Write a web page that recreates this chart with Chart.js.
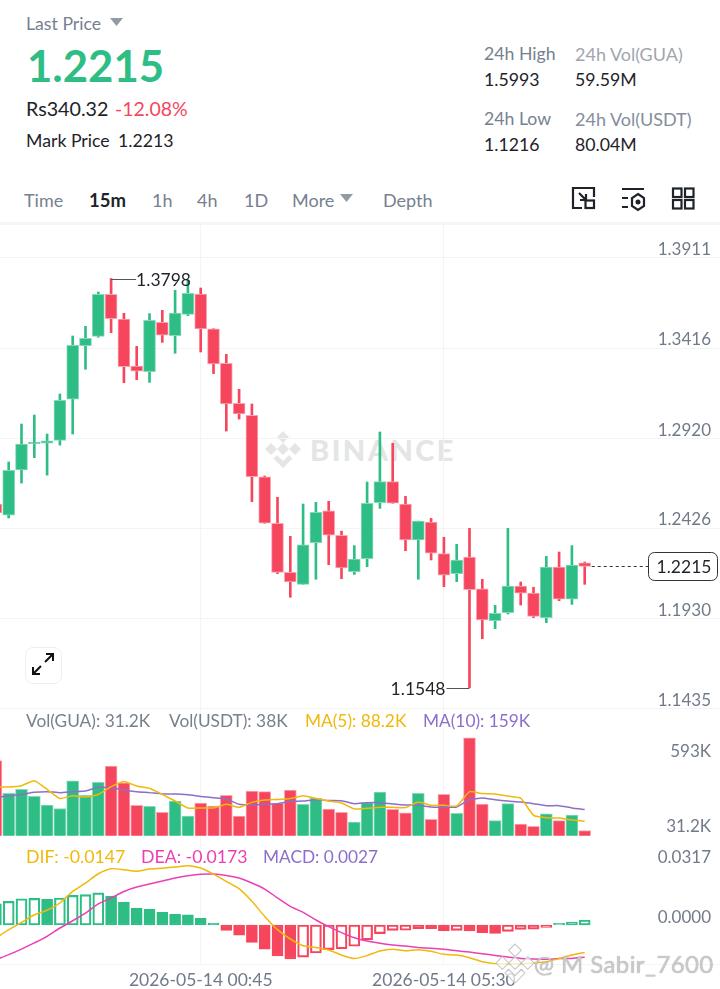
<!DOCTYPE html>
<html>
<head>
<meta charset="utf-8">
<style>
html,body{margin:0;padding:0;background:#fff;}
body{width:720px;height:989px;position:relative;overflow:hidden;font-family:Lato,sans-serif;}
.t{position:absolute;white-space:nowrap;transform:translateY(-50%);line-height:1;}
canvas{position:absolute;left:0;}
.g{color:#76808F;}
.k{color:#1E2329;}
.s{font-size:17.7px;}
.l{font-size:17.3px;}
.wm{position:absolute;left:264px;top:430px;display:flex;align-items:center;color:#E4E5E6;font-weight:900;font-size:29px;letter-spacing:2.4px;}
</style>
</head>
<body>
<div class="t g s" style="left:26px;top:24px;">Last Price</div>
<svg style="position:absolute;left:110px;top:18px" width="14" height="9"><path d="M0 0H13L6.5 8Z" fill="#929AA5"/></svg>
<div class="t" style="left:27px;top:66px;font-size:43.7px;font-weight:700;color:#2EBD85;">1.2215</div>
<div class="t k" style="left:26px;top:109px;font-size:19.7px;">Rs340.32</div>
<div class="t" style="left:115px;top:109px;font-size:19.5px;color:#F6465D;">-12.08%</div>
<div class="t k s" style="left:26px;top:141px;">Mark Price</div>
<div class="t k s" style="left:118px;top:141px;">1.2213</div>
<div class="t g s" style="left:484px;top:54px;">24h High</div>
<div class="t k s" style="left:484px;top:80px;">1.5993</div>
<div class="t g s" style="left:484px;top:119px;">24h Low</div>
<div class="t k s" style="left:484px;top:145px;">1.1216</div>
<div class="t" style="left:575px;top:54px;font-size:18px;color:#A0A6AF;">24h Vol(GUA)</div>
<div class="t k s" style="left:575px;top:80px;">59.59M</div>
<div class="t" style="left:575px;top:119px;font-size:18px;color:#848E9C;">24h Vol(USDT)</div>
<div class="t k s" style="left:575px;top:145px;">80.04M</div>

<div class="t g" style="left:24px;top:200px;font-size:18px;">Time</div>
<div class="t k" style="left:89px;top:200px;font-size:18.5px;font-weight:700;">15m</div>
<div class="t g" style="left:152px;top:200px;font-size:18px;">1h</div>
<div class="t g" style="left:197px;top:200px;font-size:18px;">4h</div>
<div class="t g" style="left:244px;top:200px;font-size:18px;">1D</div>
<div class="t g" style="left:292px;top:200px;font-size:18px;">More</div>
<svg style="position:absolute;left:340px;top:194px" width="14" height="9"><path d="M0 0H13L6.5 8Z" fill="#929AA5"/></svg>
<div class="t g" style="left:383px;top:200px;font-size:18px;">Depth</div>
<svg style="position:absolute;left:570px;top:185px" width="128" height="28" fill="none" stroke="#1E2329" stroke-width="2.2">
  <path d="M12 23H3V3H24V12"/><path d="M9 8L16 15M16 9V15H10"/><rect x="15.500" y="15.500" width="8.500" height="7.500"/>
  <path d="M52 4H74M52 13H58M52 22H58"/><path d="M68 9L74 13V21L68 25L62 21V13Z"/><circle cx="68" cy="17" r="1.400" fill="#1E2329"/>
  <rect x="103" y="3.500" width="8.500" height="8.500"/><rect x="115" y="3.500" width="8.500" height="8.500"/><rect x="103" y="15" width="8.500" height="8.500"/><rect x="115" y="15" width="8.500" height="8.500"/>
</svg>
<div style="position:absolute;left:0;top:222px;width:720px;height:3px;background:#F5F5F5;"></div>

<div class="wm"><svg width="38" height="38" viewBox="0 0 38 38" style="margin-right:8px" fill="#E4E5E6"><path d="M19 1l6 6-6 6-6-6zM7 13l6 6-6 6-6-6zM31 13l6 6-6 6-6-6zM19 13l6 6-6 6-6-6zM13 25l6 6 6-6 3.500 3.500L19 38l-9.500-9.500z"/></svg>BINANCE</div>

<canvas id="priceChart" width="720" height="486" style="top:224px"></canvas>
<canvas id="volChart" width="720" height="129" style="top:708px"></canvas>
<canvas id="macdChart" width="720" height="152" style="top:837px"></canvas>

<div class="t g l" style="left:26px;top:721px;">Vol(GUA): 31.2K</div>
<div class="t g l" style="left:169px;top:721px;">Vol(USDT): 38K</div>
<div class="t l" style="left:305px;top:721px;color:#F0B90B;">MA(5): 88.2K</div>
<div class="t l" style="left:423px;top:721px;color:#8D6FCB;">MA(10): 159K</div>
<div class="t s" style="left:26px;top:857px;color:#F0B90B;">DIF: -0.0147</div>
<div class="t s" style="left:141px;top:857px;color:#EB40B5;">DEA: -0.0173</div>
<div class="t l" style="left:263px;top:857px;color:#8D6FCB;">MACD: 0.0027</div>

<div style="position:absolute;left:25px;top:647px;width:35px;height:35px;border:1.500px solid #EEEEEE;border-radius:8px;background:#fff;"></div>
<svg style="position:absolute;left:31px;top:652px" width="24" height="24" fill="none" stroke="#111" stroke-width="2"><path d="M2 22L10 14M2 15V22H9M22 2L14 10M15 2H22V9"/></svg>

<svg style="position:absolute;left:495px;top:943px" width="40" height="40" viewBox="0 0 38 38" fill="rgba(255,255,255,.7)" stroke="#C4C4C4" stroke-width="1"><path d="M19 1l6 6-6 6-6-6zM7 13l6 6-6 6-6-6zM31 13l6 6-6 6-6-6zM19 13l6 6-6 6-6-6zM13 25l6 6 6-6 3.500 3.500L19 38l-9.500-9.500z"/></svg>
<div class="t" style="left:534px;top:964px;font-size:24px;color:rgba(205,205,205,.9);text-shadow:0 0 1px #999;letter-spacing:.4px;">@ M Sabir_7600</div>

<script src="https://cdn.jsdelivr.net/npm/chart.js@4"></script>
<script>
const openPrices = [1.2558,1.2497,1.2745,1.2890,1.2892,1.2908,1.3134,1.3429,1.3480,1.3711,1.3575,1.3317,1.3286,1.3557,1.3484,1.3601,1.3713,1.3522,1.3332,1.3112,1.3046,1.2708,1.2452,1.2182,1.2116,1.2345,1.2521,1.2386,1.2186,1.2257,1.2565,1.2681,1.2558,1.2360,1.2459,1.2285,1.2175,1.2266,1.2091,1.1916,1.1960,1.2107,1.2068,1.1933,1.2211,1.2034,1.2235];
const highPrices = [1.2563,1.2789,1.2998,1.3047,1.2943,1.3163,1.3482,1.3535,1.3724,1.3798,1.3607,1.3425,1.3605,1.3623,1.3733,1.3790,1.3746,1.3522,1.3381,1.3189,1.3108,1.2712,1.2595,1.2380,1.2558,1.2567,1.2573,1.2409,1.2329,1.2679,1.2954,1.2892,1.2600,1.2464,1.2479,1.2375,1.2336,1.2424,1.2144,1.2001,1.2424,1.2129,1.2100,1.2270,1.2294,1.2329,1.2239];
const lowPrices = [1.2503,1.2481,1.2673,1.2813,1.2717,1.2882,1.2943,1.3299,1.3475,1.3500,1.3225,1.3242,1.3227,1.3447,1.3387,1.3594,1.3394,1.3275,1.2959,1.3025,1.2571,1.2452,1.2175,1.2045,1.2116,1.2144,1.2224,1.2147,1.2171,1.2213,1.2534,1.2562,1.2301,1.2144,1.2250,1.2103,1.2131,1.1548,1.1817,1.1872,1.1953,1.2002,1.1933,1.1905,1.2026,1.2006,1.2116];
const closePrices = [1.2509,1.2743,1.2888,1.2899,1.2906,1.3128,1.3431,1.3469,1.3711,1.3577,1.3313,1.3289,1.3568,1.3487,1.3608,1.3717,1.3521,1.3328,1.3108,1.3053,1.2708,1.2452,1.2182,1.2129,1.2334,1.2512,1.2386,1.2206,1.2255,1.2562,1.2681,1.2562,1.2360,1.2464,1.2287,1.2167,1.2250,1.2087,1.1920,1.1957,1.2107,1.2067,1.1940,1.2211,1.2034,1.2222,1.2215];

// volume, in thousands
const volumes = [455,256,281,238,186,165,333,244,323,422,321,184,178,141,210,119,198,180,244,119,271,267,196,277,190,228,162,141,83,200,265,159,138,256,99,250,135,593,192,91,194,71,56,132,91,125,31.2];
const ma5 = [295,295,303,333,281,226,242,234,250,297,329,301,287,250,210,168,168,168,190,172,202,216,220,226,242,226,210,198,162,166,172,172,170,204,184,184,180,267,255,253,240,228,123,109,107,95,88.2];
const ma10 = [230,242,250,263,267,261,267,271,293,291,277,267,261,253,253,248,238,230,222,190,186,192,194,208,210,218,214,212,194,200,200,192,186,184,174,172,174,218,228,218,210,204,194,182,182,168,159];

const macdHist = [.0113,.0127,.0141,.0143,.0138,.0145,.0159,.0163,.0172,.0155,.0123,.0091,.0084,.0068,.0057,.0055,.0036,.0009,-.0029,-.0055,-.0093,-.0129,-.0166,-.0182,-.0172,-.0150,-.0132,-.0127,-.0114,-.0080,-.0046,-.0029,-.0028,-.0020,-.0020,-.0030,-.0029,-.0032,-.0041,-.0045,-.0034,-.0023,-.0022,-.0013,.0009,.0016,.0027];
const dif = [-.0070,-.0025,.0014,.0055,.0079,.0118,.0180,.0225,.0275,.0302,.0297,.0288,.0300,.0304,.0311,.0318,.0306,.0273,.0234,.0195,.0127,.0046,-.0025,-.0075,-.0111,-.0120,-.0134,-.0161,-.0180,-.0164,-.0139,-.0130,-.0138,-.0132,-.0141,-.0157,-.0161,-.0175,-.0197,-.0207,-.0209,-.0209,-.0204,-.0197,-.0180,-.0161,-.0147];
const dea = [-.0186,-.0159,-.0129,-.0096,-.0061,-.0016,.0023,.0064,.0113,.0145,.0180,.0204,.0220,.0236,.0252,.0264,.0272,.0273,.0266,.0252,.0225,.0193,.0145,.0100,.0068,.0027,-.0009,-.0041,-.0068,-.0086,-.0098,-.0107,-.0113,-.0120,-.0125,-.0130,-.0138,-.0145,-.0154,-.0163,-.0172,-.0179,-.0182,-.0184,-.0180,-.0179,-.0173];

const priceTicks = [1.3911,1.3416,1.2920,1.2426,1.1930,1.1435];
const lastPrice = 1.2215;
const timeTickIndex = [16,35];
const timeLabels = ['2026-05-14 00:45','2026-05-14 05:30'];

const GREEN = '#2EBD85', RED = '#F6465D';
const GREEN_EDGE = '#86DAB9', RED_EDGE = '#FBA6B1';
const GRID = '#F3F4F5', FONT = 'Lato', TICK = '#707A8A';

const idx = openPrices.map((_, i) => i);
const isUp = i => closePrices[i] >= openPrices[i];

function noPadding(s) {
    s.paddingLeft = s.paddingRight = s.paddingTop = s.paddingBottom = 0;
}

function xScale(extra) {
    return Object.assign({
        type: 'linear',
        offset: false,
        min: 0.32,
        max: 56.57,
        afterBuildTicks: s => { s.ticks = timeTickIndex.map(v => ({value: v})); },
        afterFit: s => { s.height = 0; noPadding(s); },
        grid: {color: GRID, drawTicks: false, offset: false},
        border: {display: true, color: GRID},
        ticks: {display: false, autoSkip: false, maxRotation: 0}
    }, extra || {});
}

function yAxis(min, max, values, labelOffset, fmt, showGrid) {
    return {
        position: 'right',
        min: min,
        max: max,
        afterBuildTicks: s => { s.ticks = values.map(v => ({value: v})); },
        afterFit: s => { s.width = 0; noPadding(s); },
        grid: {display: showGrid, color: GRID, drawTicks: false},
        border: {display: false},
        ticks: {
            mirror: true,
            padding: -9,
            labelOffset: labelOffset,
            color: TICK,
            font: {family: FONT, size: 17},
            callback: fmt
        }
    };
}

const baseOptions = {
    responsive: false,
    animation: false,
    devicePixelRatio: 1,
    layout: {padding: 0},
    datasets: {bar: {grouped: false}},
    plugins: {legend: {display: false}, tooltip: {enabled: false}},
    elements: {point: {radius: 0}}
};

// high / low leaders and the last price tag
const priceMarks = {
    id: 'priceMarks',
    afterDatasetsDraw(chart) {
        const {ctx, scales: {x, y}} = chart;
        const hi = highPrices.indexOf(Math.max(...highPrices));
        const lo = lowPrices.indexOf(Math.min(...lowPrices));
        ctx.save();
        ctx.font = '17.5px ' + FONT;
        ctx.textBaseline = 'middle';
        ctx.lineWidth = 1;
        ctx.strokeStyle = '#555';
        ctx.fillStyle = '#1E2329';

        let px = x.getPixelForValue(hi), py = Math.round(y.getPixelForValue(highPrices[hi])) + .5;
        ctx.beginPath(); ctx.moveTo(px, py); ctx.lineTo(px + 25, py); ctx.stroke();
        ctx.textAlign = 'left';
        ctx.fillText(highPrices[hi].toFixed(4), px + 25, py + 1);

        px = x.getPixelForValue(lo); py = Math.round(y.getPixelForValue(lowPrices[lo])) + .5;
        ctx.beginPath(); ctx.moveTo(px, py); ctx.lineTo(px - 23, py); ctx.stroke();
        ctx.textAlign = 'right';
        ctx.fillText(lowPrices[lo].toFixed(4), px - 24, py + 1);

        py = Math.round(y.getPixelForValue(lastPrice)) + .5;
        ctx.setLineDash([3, 3]);
        ctx.strokeStyle = '#333';
        ctx.beginPath(); ctx.moveTo(x.getPixelForValue(idx.length - 1) + 7, py); ctx.lineTo(649, py); ctx.stroke();
        ctx.setLineDash([]);
        ctx.fillStyle = '#fff';
        ctx.beginPath(); ctx.roundRect(648.5, py - 14, 69, 28, 6); ctx.fill(); ctx.stroke();
        ctx.fillStyle = '#1E2329';
        ctx.textAlign = 'center';
        ctx.fillText(lastPrice.toFixed(4), 684, py + 1);
        ctx.restore();
    }
};

new Chart(document.getElementById('priceChart'), {
    type: 'bar',
    data: {
        datasets: [
            {
                data: idx.map(i => ({x: i, y: [openPrices[i], closePrices[i]]})),
                backgroundColor: idx.map(i => isUp(i) ? GREEN : RED),
                borderColor: idx.map(i => isUp(i) ? GREEN_EDGE : RED_EDGE),
                borderWidth: 1,
                borderSkipped: false,
                barThickness: 12
            },
            {
                data: idx.map(i => ({x: i, y: [lowPrices[i], highPrices[i]]})),
                backgroundColor: idx.map(i => isUp(i) ? GREEN : RED),
                barThickness: 2
            }
        ]
    },
    options: Object.assign({}, baseOptions, {
        scales: {
            x: xScale(),
            y: yAxis(1.1425, 1.4098, priceTicks, -8, v => v.toFixed(4), true)
        }
    }),
    plugins: [priceMarks]
});

new Chart(document.getElementById('volChart'), {
    type: 'bar',
    data: {
        datasets: [
            {type: 'line', data: idx.map(i => ({x: i, y: ma5[i]})), borderColor: '#F0B90B', borderWidth: 1.5, tension: .15},
            {type: 'line', data: idx.map(i => ({x: i, y: ma10[i]})), borderColor: '#8D6FCB', borderWidth: 1.5, tension: .15},
            {
                data: idx.map(i => ({x: i, y: volumes[i]})),
                backgroundColor: idx.map(i => isUp(i) ? GREEN : RED),
                borderColor: idx.map(i => isUp(i) ? GREEN_EDGE : RED_EDGE),
                borderWidth: {top: 1, left: 1, right: 1, bottom: 0},
                barThickness: 12
            }
        ]
    },
    options: Object.assign({}, baseOptions, {
        scales: {
            x: xScale(),
            y: yAxis(-8, 774, [593], 14, () => '593K', false),
            y2: yAxis(-8, 774, [31.2], -4, () => '31.2K', false)
        }
    })
});

new Chart(document.getElementById('macdChart'), {
    type: 'bar',
    data: {
        datasets: [
            {type: 'line', data: idx.map(i => ({x: i, y: dif[i]})), borderColor: '#F0B90B', borderWidth: 1.5, tension: .2, clip: false},
            {type: 'line', data: idx.map(i => ({x: i, y: dea[i]})), borderColor: '#EB40B5', borderWidth: 1.5, tension: .2, clip: false},
            {
                data: idx.map(i => ({x: i, y: macdHist[i]})),
                // a bar that grew on the previous one is drawn hollow
                backgroundColor: idx.map(i => {
                    const hollow = i > 0 ? macdHist[i] > macdHist[i - 1] : true;
                    return hollow ? 'transparent' : (macdHist[i] >= 0 ? GREEN : RED);
                }),
                borderColor: idx.map(i => macdHist[i] >= 0 ? GREEN : RED),
                borderWidth: 1.5,
                borderSkipped: false,
                barThickness: 11
            }
        ]
    },
    options: Object.assign({}, baseOptions, {
        scales: {
            x: xScale({
                afterFit: s => { s.height = 25; noPadding(s); },
                ticks: {
                    display: true,
                    autoSkip: false,
                    maxRotation: 0,
                    padding: 6,
                    color: TICK,
                    font: {family: FONT, size: 17.5},
                    callback: v => timeLabels[timeTickIndex.indexOf(v)]
                }
            }),
            y: yAxis(-.0209, .0472, [.0317, 0], -8, v => v.toFixed(4), false)
        }
    })
});
</script>
</body>
</html>
